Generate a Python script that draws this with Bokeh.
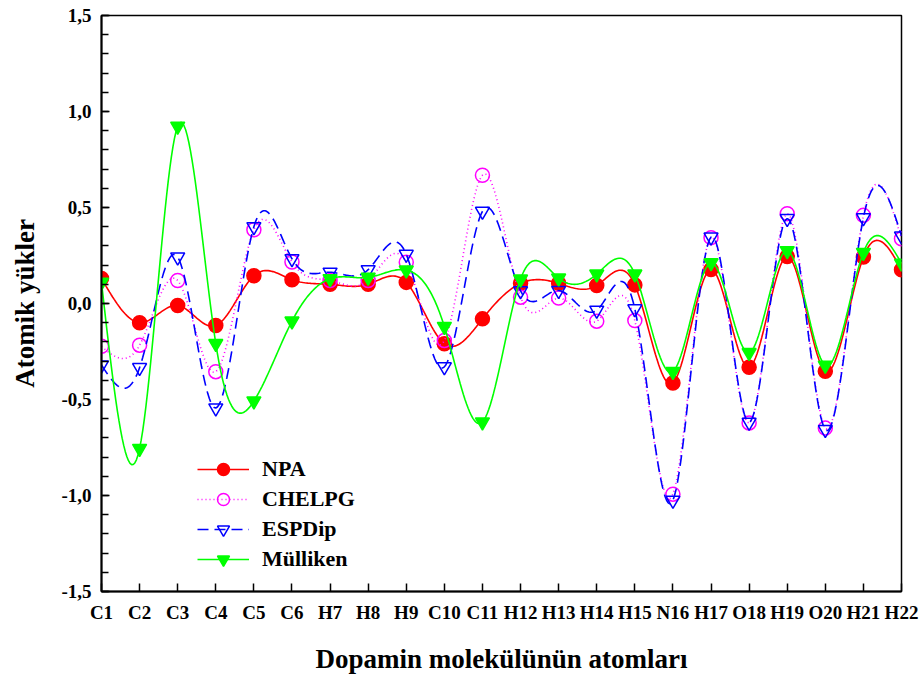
import numpy as np
from bokeh.plotting import figure
from bokeh.models import FixedTicker, Legend, LegendItem, ColumnDataSource
from bokeh.embed import file_html
from bokeh.resources import INLINE

atoms = ["C1", "C2", "C3", "C4", "C5", "C6", "H7", "H8", "H9", "C10", "C11",
         "H12", "H13", "H14", "H15", "N16", "H17", "O18", "H19", "O20", "H21", "H22"]
npa = [0.13, -0.10, -0.01, -0.115, 0.145, 0.124, 0.10, 0.10, 0.11, -0.21, -0.08,
       0.105, 0.105, 0.094, 0.097, -0.414, 0.177, -0.332, 0.245, -0.353, 0.242, 0.176]
chelpg = [-0.223, -0.217, 0.12, -0.355, 0.384, 0.216, 0.12, 0.12, 0.215, -0.193, 0.668,
          0.033, 0.028, -0.092, -0.089, -0.993, 0.343, -0.622, 0.468, -0.649, 0.459, 0.337]
espdip = [-0.32, -0.334, 0.242, -0.544, 0.40, 0.233, 0.163, 0.176, 0.256, -0.33, 0.48,
          0.066, 0.068, -0.035, -0.028, -1.025, 0.346, -0.619, 0.442, -0.657, 0.447, 0.351]
mulliken = [0.11, -0.755, 0.923, -0.209, -0.508, -0.092, 0.129, 0.136, 0.174, -0.12, -0.617,
            0.127, 0.132, 0.153, 0.153, -0.355, 0.212, -0.256, 0.275, -0.322, 0.266, 0.209]
y_ticks = [-1.5, -1.0, -0.5, 0.0, 0.5, 1.0, 1.5]
y_tick_labels = ["-1,5", "-1,0", "-0,5", "0,0", "0,5", "1,0", "1,5"]

x = np.arange(1, len(atoms) + 1, dtype=float)


def natural_spline(xs, ys, per=24):
    xs = np.asarray(xs, float)
    ys = np.asarray(ys, float)
    n = len(xs)
    h = np.diff(xs)
    A = np.zeros((n, n))
    b = np.zeros(n)
    A[0, 0] = 1.0
    A[-1, -1] = 1.0
    for i in range(1, n - 1):
        A[i, i - 1] = h[i - 1]
        A[i, i] = 2 * (h[i - 1] + h[i])
        A[i, i + 1] = h[i]
        b[i] = 3 * ((ys[i + 1] - ys[i]) / h[i] - (ys[i] - ys[i - 1]) / h[i - 1])
    c = np.linalg.solve(A, b)
    out_x, out_y = [], []
    for i in range(n - 1):
        bi = (ys[i + 1] - ys[i]) / h[i] - h[i] * (2 * c[i] + c[i + 1]) / 3
        di = (c[i + 1] - c[i]) / (3 * h[i])
        t = np.linspace(0, h[i], per, endpoint=(i == n - 2))
        out_x.extend(xs[i] + t)
        out_y.extend(ys[i] + bi * t + c[i] * t ** 2 + di * t ** 3)
    return out_x, out_y


FONT = "Liberation Serif"

p = figure(width=920, height=677, x_range=(1, 22), y_range=(-1.5, 1.5),
           output_backend="svg", toolbar_location=None,
           min_border_left=101, min_border_right=19, min_border_top=15, min_border_bottom=86)
p.xgrid.visible = False
p.ygrid.visible = False
p.outline_line_color = "black"
p.outline_line_width = 1.5
p.background_fill_color = "white"
p.border_fill_color = "white"

series = [
    ("NPA", npa, "#FF0000", "solid", "circle", True),
    ("CHELPG", chelpg, "#FF00FF", "1 3", "circle", False),
    ("ESPDip", espdip, "#0000FF", "11 6", "inverted_triangle", False),
    ("Mülliken", mulliken, "#00FF00", "solid", "inverted_triangle", True),
]

items = []
for name, vals, col, dash, marker, filled in series:
    sx, sy = natural_spline(x, vals)
    lr = p.line(sx, sy, line_color=col, line_width=1.6, line_dash=dash)
    src = ColumnDataSource(dict(x=x, y=vals))
    mr = p.scatter("x", "y", source=src, marker=marker, size=14,
                   line_color=col, line_width=1.5,
                   fill_color=col if filled else None)
    items.append(LegendItem(label=name, renderers=[lr, mr]))

legend = Legend(items=items, location=(96, 17), padding=0, margin=0, spacing=0,
                glyph_width=52, glyph_height=30, label_height=30, label_standoff=13,
                background_fill_alpha=0, border_line_alpha=0,
                label_text_font=FONT, label_text_font_style="bold",
                label_text_font_size="22px", label_text_color="black")
p.add_layout(legend)

p.xaxis.ticker = FixedTicker(ticks=list(x))
p.xaxis.major_label_overrides = {float(v): a for v, a in zip(x, atoms)}
p.xaxis.major_label_overrides.update({int(v): a for v, a in zip(x, atoms)})
p.xaxis.minor_tick_line_color = None
p.yaxis.ticker = FixedTicker(ticks=y_ticks,
                             minor_ticks=[round(-1.5 + 0.1 * i, 2) for i in range(31)])
p.yaxis.major_label_overrides = {v: s for v, s in zip(y_ticks, y_tick_labels)}

for ax in (p.xaxis[0], p.yaxis[0]):
    ax.axis_line_width = 2
    ax.axis_line_color = "black"
    ax.major_tick_in = 8
    ax.major_tick_out = 0
    ax.minor_tick_in = 7
    ax.minor_tick_out = 0
    ax.major_tick_line_width = 1.5
    ax.minor_tick_line_width = 1.5
    ax.major_tick_line_color = "black"
    ax.major_label_text_font = FONT
    ax.major_label_text_font_style = "bold"
    ax.major_label_text_font_size = "19px"
    ax.major_label_text_color = "black"
    ax.axis_label_text_font = FONT
    ax.axis_label_text_font_style = "bold"
    ax.axis_label_text_font_size = "27px"
    ax.axis_label_text_color = "black"

p.xaxis.axis_label = "Dopamin molekülünün atomları"
p.yaxis.axis_label = "Atomik yükler"
p.xaxis.major_label_standoff = 10
p.yaxis.major_label_standoff = 10
p.xaxis.axis_label_standoff = 18
p.yaxis.axis_label_standoff = 18

open("out.html", "w").write(file_html(p, INLINE))
